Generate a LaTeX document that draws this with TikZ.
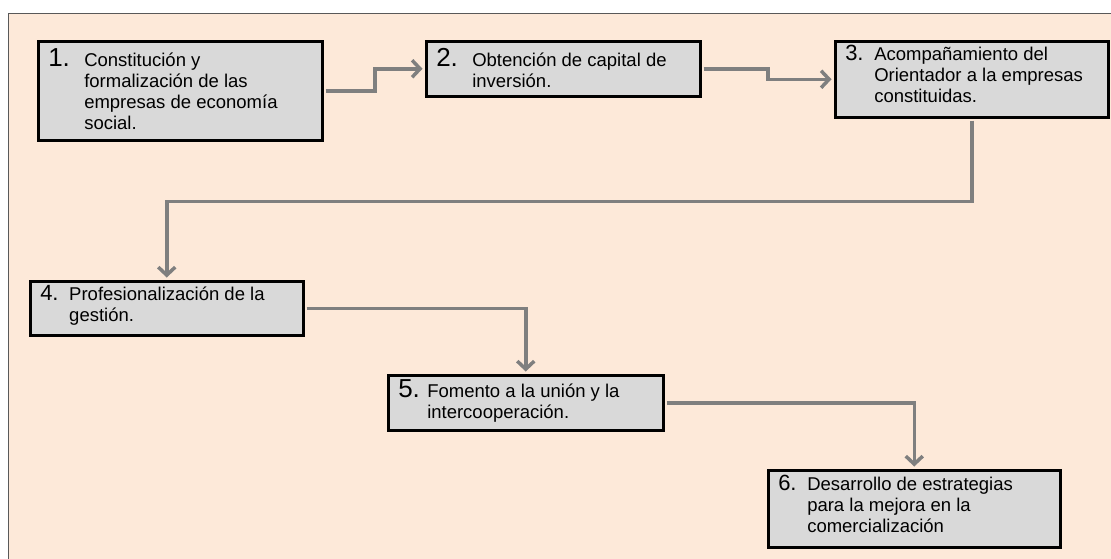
\documentclass[tikz,border=0pt]{standalone}
\usepackage{fontspec}
\setmainfont{Liberation Sans}
\usepackage{xcolor}
\usetikzlibrary{arrows.meta}

\definecolor{fondo}{HTML}{FDE9D9}
\definecolor{caja}{HTML}{D9D9D9}
\definecolor{flecha}{HTML}{7F7F7F}
\definecolor{marco}{HTML}{595959}

\newcommand\numgr[2][36pt]{\makebox[#1][l]{\fontsize{26}{26}\selectfont #2.}}
\newcommand\numpq[2][29pt]{\makebox[#1][l]{\fontsize{22}{22}\selectfont #2.}}
\newcommand\pasotxt[5]{\parbox[t][#2][t]{#1}{\vspace*{#3}\hspace*{10pt}#4\begin{tabular}[t]{@{}l@{}}#5\end{tabular}}}

\begin{document}
\begin{tikzpicture}[x=1pt,y=-1pt,
    paso/.style={draw=black,line width=3.5pt,fill=caja,inner sep=0pt,anchor=north west,
      font=\fontsize{18.5}{21}\selectfont},
    flujo/.style={draw=flecha,line width=3.5pt,shorten <=1.5pt,shorten >=2pt,
      -{Straight Barb[length=8pt,width=17pt]}}]
    \useasboundingbox (0,0) rectangle (1111,558);
    \fill[white] (0,0) rectangle (1111,558);
    \filldraw[fill=fondo,draw=marco,line width=1pt] (8.5,13.5) rectangle (1120,570);

    \node (p1) [paso] at (36.5,39.5) {\pasotxt{284pt}{99pt}{7pt}{\numgr{1}}{Constitución y\\formalización de las\\empresas de economía\\social.}};
    \node (p2) [paso] at (424.5,39.5) {\pasotxt{274pt}{55pt}{7pt}{\numgr{2}}{Obtención de capital de\\inversión.}};
    \node (p3) [paso] at (833.5,39.5) {\pasotxt{273pt}{76pt}{3.5pt}{\numpq{3}}{Acompañamiento del\\Orientador a la empresas\\constituidas.}};
    \node (p4) [paso] at (28.5,279.5) {\pasotxt{273pt}{54pt}{4pt}{\numpq{4}}{Profesionalización de la\\gestión.}};
    \node (p5) [paso] at (386.5,373.5) {\pasotxt{275pt}{55pt}{4.5pt}{\numgr[29pt]{5}}{Fomento a la unión y la\\intercooperación.}};
    \node (p6) [paso] at (766.5,468.5) {\pasotxt{292pt}{77pt}{4.5pt}{\numpq{6}}{Desarrollo de estrategias\\para la mejora en la\\comercialización}};

    \draw[flujo] (p1.east) -- ++(51,0) |- (p2.west);
    \draw[flujo] (p2.east) -- ++(66,0) |- (p3.west);
    \draw[flujo] (p3.south) -- ++(0,82.5) -| (p4.north);
    \draw[flujo] (p4.east) -| (p5.north);
    \draw[flujo] (p5.east) -| (p6.north);
\end{tikzpicture}
\end{document}
